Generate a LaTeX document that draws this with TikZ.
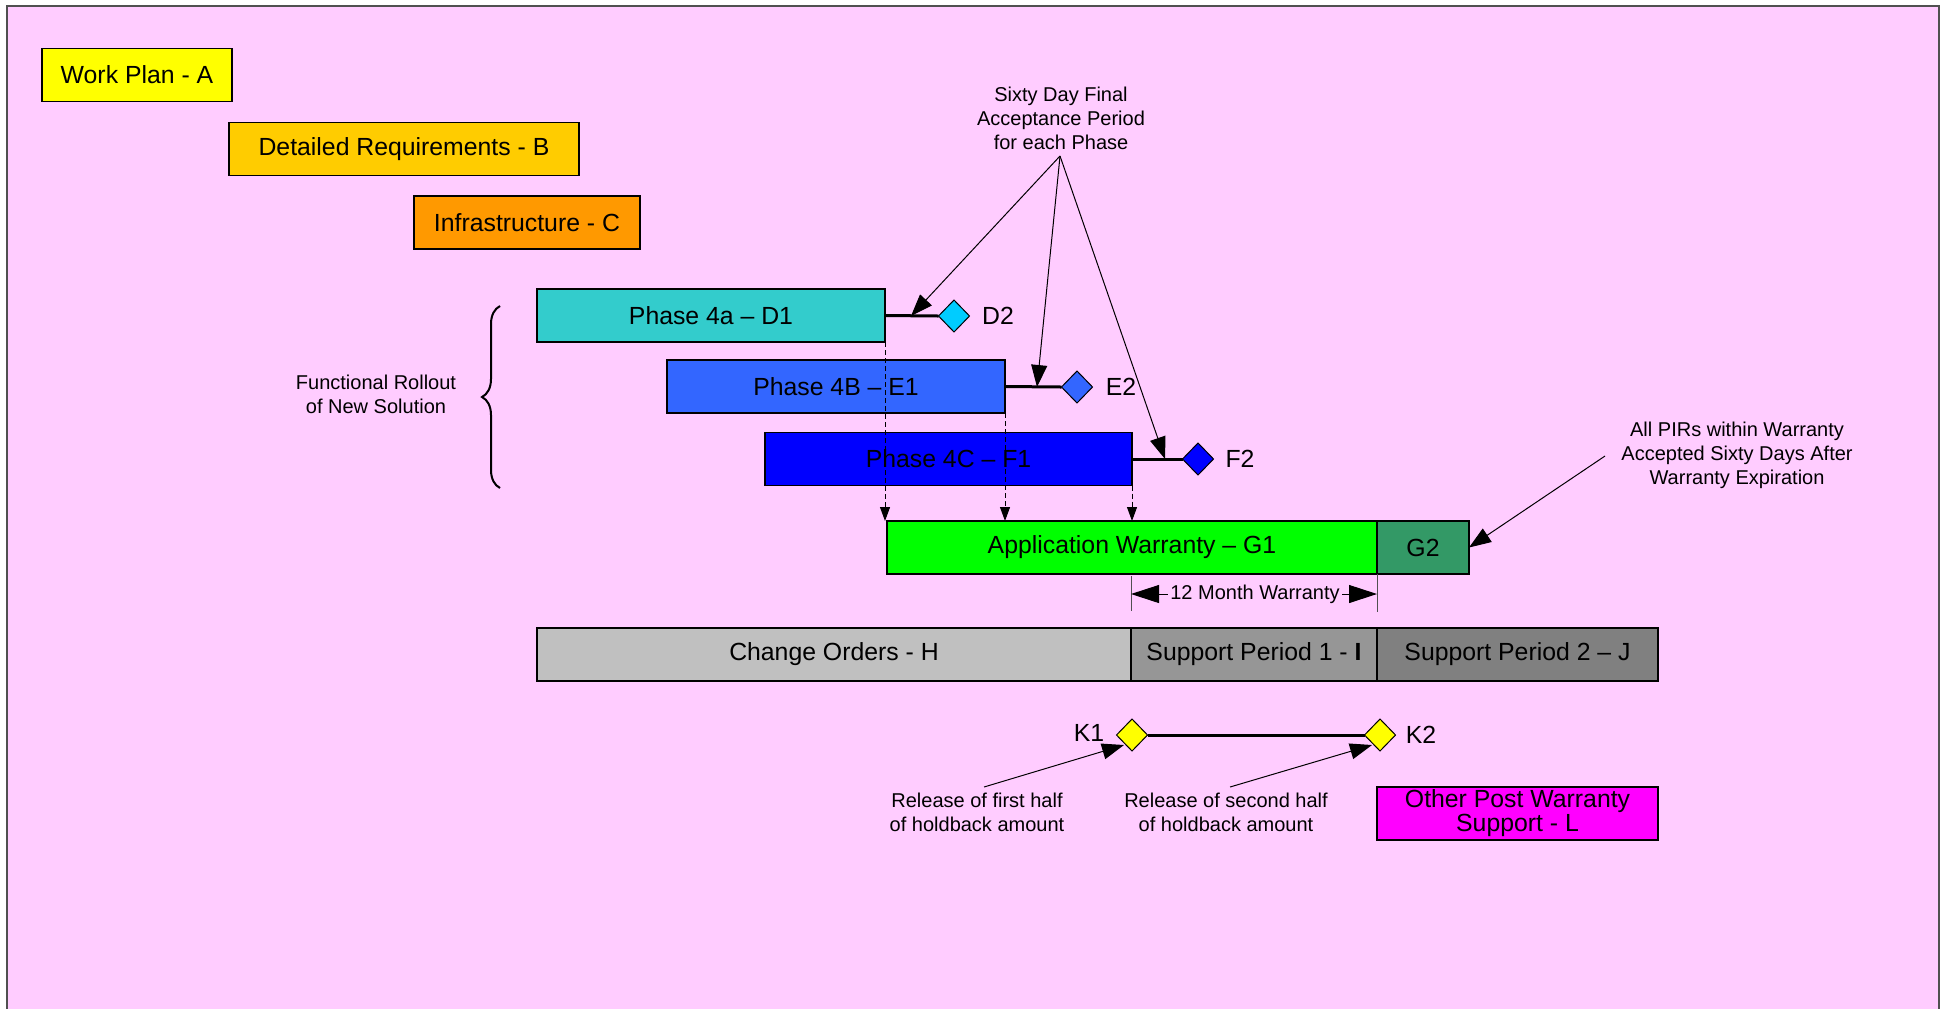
\documentclass[tikz,border=0pt]{standalone}
\usepackage{fontspec}
\setmainfont{Liberation Sans}
\usetikzlibrary{arrows.meta,shapes.geometric,decorations.pathreplacing}
\definecolor{bgpink}{HTML}{FFCCFF}
\definecolor{cA}{HTML}{FFFF00}
\definecolor{cB}{HTML}{FFCC00}
\definecolor{cC}{HTML}{FF9900}
\definecolor{cD}{HTML}{33CCCC}
\definecolor{cE}{HTML}{3366FF}
\definecolor{cF}{HTML}{0000FF}
\definecolor{cG}{HTML}{00FF00}
\definecolor{cGtwo}{HTML}{339966}
\definecolor{cH}{HTML}{C0C0C0}
\definecolor{cI}{HTML}{969696}
\definecolor{cJ}{HTML}{808080}
\definecolor{cL}{HTML}{FF00FF}
\definecolor{cDtwo}{HTML}{00CCFF}
\definecolor{frame}{HTML}{505050}
\begin{document}
\begin{tikzpicture}[x=0.5pt,y=-0.5pt,
  bx/.style={draw=black, line width=0.6pt, rectangle, inner sep=0pt, outer sep=0pt,
    minimum height=26.5pt, align=center, font=\fontsize{12.4}{12}\selectfont},
  ms/.style={diamond, draw=black, line width=0.5pt, inner sep=0pt, outer sep=0pt,
    minimum width=15.5pt, minimum height=16pt},
  lbl/.style={inner sep=0pt, font=\fontsize{12.4}{13}\selectfont},
  txt/.style={inner sep=0pt, align=center, font=\fontsize{10}{12}\selectfont},
  mline/.style={line width=1.5pt},
  dsh/.style={line width=0.5pt, dash pattern=on 2.5pt off 1.5pt, -{Triangle[length=7pt,width=5pt]}},
  calarr/.style={line width=0.5pt, -{Triangle[length=11pt,width=8pt]}},
  dimarr/.style={line width=0.5pt, -{Triangle[length=14pt,width=9pt]}},
  tickln/.style={line width=0.5pt, draw=frame}
]
\useasboundingbox (0,0) rectangle (1946,1008);
\fill[white] (0,0) rectangle (1946,1008);
\fill[bgpink] (7,6) rectangle (1939,1010);
\draw[frame, line width=0.8pt] (7,1010) -- (7,6) -- (1939,6) -- (1939,1010);

% bars
\node[bx, fill=cA, minimum width=95pt] (A) at (137,75) {Work Plan - A};
\node[bx, fill=cB, minimum width=175pt] (B) at (404,149) {Detailed Requirements - B};
\node[bx, fill=cC, minimum width=113pt] (C) at (527,222.5) {Infrastructure - C};
\node[bx, fill=cD, minimum width=174pt] (D1) at (711,315.5) {Phase 4a -- D1};
\node[bx, fill=cE, minimum width=169pt] (E1) at (836,386.5) {Phase 4B -- E1};
\node[bx, fill=cF, minimum width=183.5pt] (F1) at (948.5,459) {Phase 4C -- F1};
\node[bx, fill=cG, minimum width=245pt] (G1) at (1132,547.5) {Application Warranty -- G1};
\node[bx, fill=cGtwo, minimum width=46pt] (G2) at (1423,547.5) {G2};
\node[bx, fill=cH, minimum width=297pt] (H) at (834,654.5) {Change Orders - H};
\node[bx, fill=cI, minimum width=123pt] (I) at (1254,654.5) {Support Period 1 - \textbf{I}};
\node[bx, fill=cJ, minimum width=140.5pt] (J) at (1517.5,654.5) {Support Period 2 -- J};
\node[bx, fill=cL, minimum width=140.5pt] (L) at (1517.5,813.5) {Other Post Warranty\\Support - L};

% dashed hand-offs
\draw[dsh] (D1.south east) -- (D1.south east |- G1.north);
\draw[dsh] (E1.south east) -- (E1.south east |- G1.north);
\draw[dsh] (F1.south east) -- (F1.south east |- G1.north);

% milestones
\node[ms, fill=cDtwo] (D2) at (954,316) {};
\node[ms, fill=cE] (E2) at (1077,387) {};
\node[ms, fill=cF] (F2) at (1198,459) {};
\draw[mline] (D1.east) -- (D2.west);
\draw[mline] (E1.east) -- (E2.west);
\draw[mline] (F1.east) -- (F2.west);
\node[lbl] (D2l) at (998,316) {D2};
\node[lbl] (E2l) at (1121,387) {E2};
\node[lbl] (F2l) at (1240,459) {F2};

% sixty day note
\node[txt] (sx) at (1061,118) {Sixty Day Final\\Acceptance Period\\for each Phase};
\coordinate (s0) at (1060,156);
\coordinate (d2t) at (911,316);
\coordinate (e2t) at (1037,387);
\coordinate (f2t) at (1165,459);
\draw[calarr] (s0) -- (d2t);
\draw[calarr] (s0) -- (e2t);
\draw[calarr] (s0) -- (f2t);

% PIR note
\node[txt] (pir) at (1737,455) {All PIRs within Warranty\\Accepted Sixty Days After\\Warranty Expiration};
\coordinate (p0) at (1605,456);
\draw[calarr] (p0) -- (G2.east);

% 12 month warranty dimension
\coordinate (t1a) at (1131,576);
\coordinate (t1b) at (1131,611);
\coordinate (t2b) at (1377,612);
\draw[tickln] (t1a) -- (t1b);
\draw[tickln] (G2.south west) -- (t2b);
\node[txt, inner sep=1pt] (tw) at (1255,594) {12 Month Warranty};
\coordinate (m1) at (1131,594);
\coordinate (m2) at (1377,594);
\draw[dimarr] (tw.west) -- (m1);
\draw[dimarr] (tw.east) -- (m2);

% brace
\draw[decorate, decoration={brace, amplitude=9pt}, line width=1pt] (500,488) -- (500,306);
\node[txt] (fr) at (376,394) {Functional Rollout\\of New Solution};

% holdback milestones
\node[ms, fill=cA] (K1) at (1132,735) {};
\node[ms, fill=cA] (K2) at (1380,735) {};
\draw[mline] (K1.east) -- (K2.west);
\node[lbl] (K1l) at (1089,733) {K1};
\node[lbl] (K2l) at (1421,735) {K2};
\node[txt] (r1) at (977,812) {Release of first half\\of holdback amount};
\node[txt] (r2) at (1226,812) {Release of second half\\of holdback amount};
\coordinate (r1s) at (984,787);
\coordinate (r2s) at (1230,787);
\coordinate (k1t) at (1124,745);
\coordinate (k2t) at (1372,745);
\draw[calarr] (r1s) -- (k1t);
\draw[calarr] (r2s) -- (k2t);
\end{tikzpicture}
\end{document}
